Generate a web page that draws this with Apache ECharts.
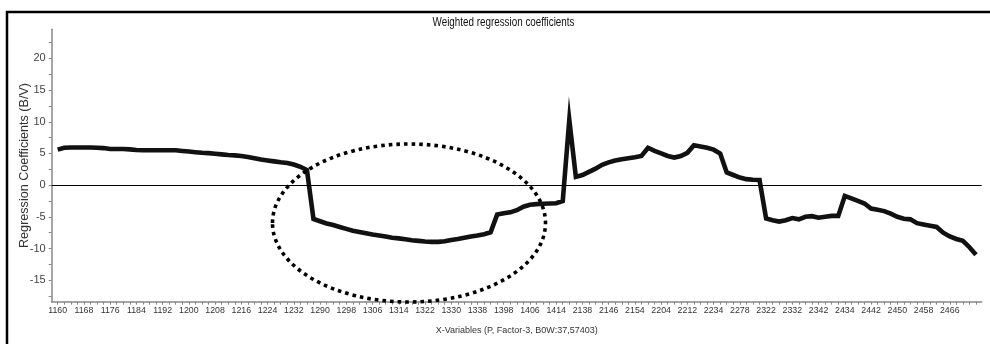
<!DOCTYPE html>
<html>
<head>
<meta charset="utf-8">
<script src="https://cdn.jsdelivr.net/npm/echarts@6/dist/echarts.min.js"></script>
<style>
html,body{margin:0;padding:0;background:#fff;}
#chart{width:990px;height:344px;}
</style>
</head>
<body>
<div id="chart"></div>
<script>
// X-variables (wavelength categories)
const categories = [
  1160,1162,1164,1166,1168,1170,1172,1174,1176,1178,1180,1182,1184,1186,1188,1190,
  1192,1194,1196,1198,1200,1202,1204,1206,1208,1210,1212,1214,1216,1218,1220,1222,
  1224,1226,1228,1230,1232,1234,1236,1288,
  1290,1292,1294,1296,1298,1300,1302,1304,1306,1308,1310,1312,1314,1316,1318,1320,
  1322,1324,1326,1328,1330,1332,1334,1336,1338,1340,1342,1396,
  1398,1400,1402,1404,1406,1408,1410,1412,1414,1416,1418,2136,
  2138,2140,2142,2144,2146,2148,2150,2152,2154,2156,2158,2202,
  2204,2206,2208,2210,2212,2214,2216,2232,2234,2236,2274,2276,
  2278,2280,2282,2284,2322,2324,2326,2330,2332,2334,2336,2340,
  2342,2344,2346,2348,2434,2436,2438,2440,2442,2444,2446,2448,
  2450,2452,2454,2456,2458,2460,2462,2464,2466,2468,2470,2472,2474
];
// Regression coefficients (B/V)
const coefficients = [
  5.6,5.9,5.95,5.95,5.95,5.95,5.9,5.85,5.7,5.7,5.7,5.65,5.55,5.5,5.5,5.5,
  5.5,5.5,5.5,5.4,5.3,5.2,5.1,5.05,4.95,4.85,4.75,4.7,4.6,4.45,4.25,4.05,
  3.9,3.75,3.6,3.5,3.25,2.9,2.4,-5.35,
  -5.7,-6.05,-6.3,-6.6,-6.9,-7.2,-7.4,-7.6,-7.8,-7.95,-8.1,-8.3,-8.4,-8.55,-8.7,-8.8,
  -8.9,-8.95,-8.95,-8.85,-8.65,-8.5,-8.3,-8.1,-7.95,-7.75,-7.45,-4.65,
  -4.45,-4.3,-3.95,-3.4,-3.1,-3.0,-2.95,-2.9,-2.85,-2.5,10.3,1.3,
  1.6,2.1,2.6,3.2,3.6,3.9,4.1,4.25,4.4,4.6,5.9,5.4,
  5.0,4.6,4.35,4.6,5.1,6.3,6.1,5.9,5.6,5.0,2.0,1.6,
  1.2,0.95,0.85,0.8,-5.25,-5.55,-5.75,-5.55,-5.2,-5.4,-5.0,-4.9,
  -5.15,-5.0,-4.85,-4.85,-1.7,-2.1,-2.5,-2.9,-3.7,-3.9,-4.1,-4.5,
  -5.0,-5.3,-5.4,-6.0,-6.2,-6.4,-6.6,-7.5,-8.1,-8.5,-8.8,-9.8,-11.0
];
const yTickLabels = [-15,-10,-5,0,5,10,15,20];
const yMinorTicks = [-17.5,-15,-12.5,-10,-7.5,-5,-2.5,0,2.5,5,7.5,10,12.5,15,17.5,20,22.5];
const xLabelEvery = 4;
const titleText = 'Weighted regression coefficients';

const xTickValues = categories.map((c,i)=>i);
const xLabelValues = categories.map((c,i)=>i).filter(i=>i%xLabelEvery===0 && i<=136);

const sans = "'Liberation Sans',Arial,sans-serif";
const chart = echarts.init(document.getElementById('chart'), null, {renderer:'canvas'});
chart.setOption({
  animation:false,
  backgroundColor:'#fff',
  grid:{left:51.7, right:8.3, top:29.3, bottom:42.3, containLabel:false},
  xAxis:{
    type:'value', min:-0.91, max:140.87,
    name:'X-Variables (P, Factor-3, B0W:37,57403)',
    nameLocation:'middle', nameGap:24, nameMoveOverlap:false,
    nameTextStyle:{fontFamily:sans, fontSize:9, color:'#333'},
    axisLine:{show:true, onZero:false, lineStyle:{color:'#888', width:1.5}},
    axisTick:{show:true, customValues:xTickValues, length:3, lineStyle:{color:'#888'}},
    axisLabel:{customValues:xLabelValues, margin:4, fontFamily:sans, fontSize:8.8, color:'#333',
      formatter:(v)=>String(categories[Math.round(v)])},
    splitLine:{show:false}
  },
  yAxis:{
    type:'value', min:-18.4, max:24.6,
    name:'Regression Coefficients (B/V)',
    nameLocation:'middle', nameRotate:90, nameGap:21, nameMoveOverlap:false,
    nameTextStyle:{fontFamily:sans, fontSize:12.6, color:'#333'},
    axisLine:{show:true, onZero:false, lineStyle:{color:'#888', width:1.5}},
    axisTick:{show:true, customValues:yMinorTicks, length:3, lineStyle:{color:'#888'}},
    axisLabel:{customValues:yTickLabels, margin:6, fontFamily:sans, fontSize:11, color:'#444'},
    splitLine:{show:false}
  },
  series:[{
    type:'line',
    data:coefficients.map((v,i)=>[i,v]),
    symbol:'none',
    lineStyle:{color:'#111', width:4.6, join:'miter', miterLimit:20},
    markLine:{
      silent:true, symbol:['none','none'], label:{show:false},
      lineStyle:{color:'#000', width:1, type:'solid'},
      data:[{yAxis:0}]
    },
    z:3
  }],
  graphic:[
    {type:'text', x:503.5, y:23, scaleX:0.82, scaleY:1,
     style:{text:titleText, fontFamily:sans, fontSize:12, fill:'#111', align:'center', verticalAlign:'middle'},
     silent:true, z:100},
    {type:'rect', shape:{x:7, y:12, width:1000, height:400}, style:{fill:'none', stroke:'#000', lineWidth:2.5}, silent:true, z:100},
    {type:'ellipse', shape:{cx:409, cy:223, rx:136.5, ry:79},
     style:{fill:'none', stroke:'#000', lineWidth:3.6, lineDash:[3.6,4]}, silent:true, z:100}
  ]
});
</script>
</body>
</html>
